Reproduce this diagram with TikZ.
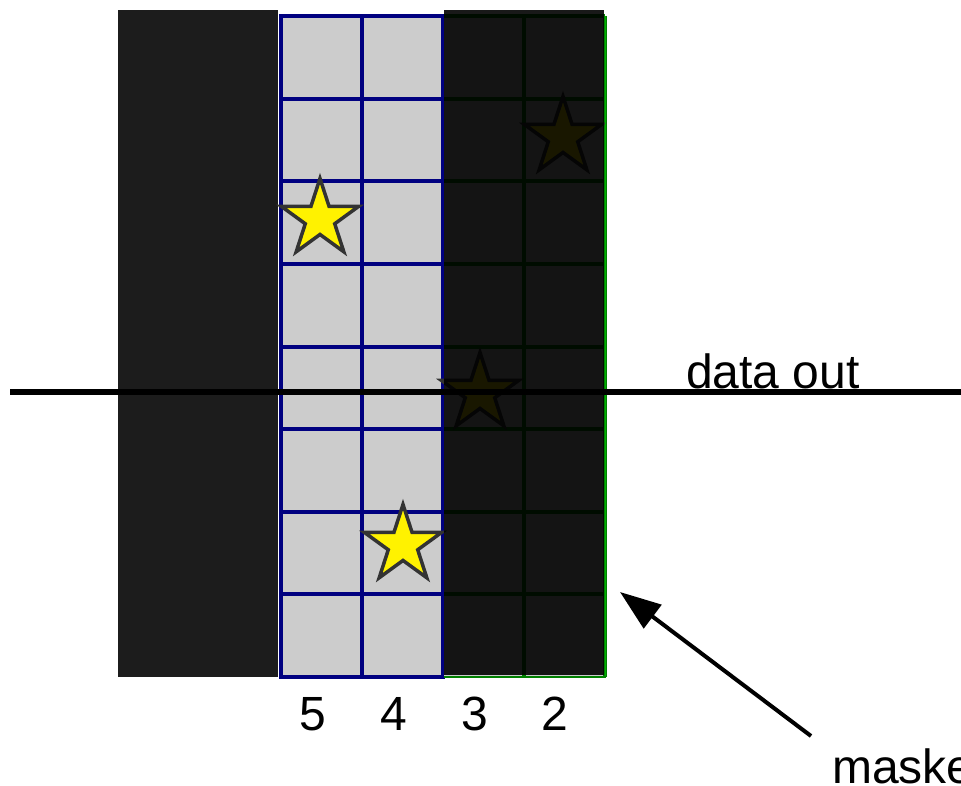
\documentclass[tikz,border=0pt]{standalone}
\usepackage{fontspec}
\setmainfont{Liberation Sans}
\usetikzlibrary{arrows.meta,shapes.geometric}
\definecolor{blockgrey}{HTML}{1C1C1C}
\definecolor{cellgrey}{HTML}{CCCCCC}
\definecolor{navy}{HTML}{000080}
\definecolor{gridgreen}{HTML}{008000}
\definecolor{edgegreen}{HTML}{00B000}
\definecolor{starline}{HTML}{333333}
\tikzset{
  hit/.style={star,star points=5,star point ratio=2.618,minimum size=81pt,
    inner sep=0pt,fill=yellow,draw=starline,line width=3.5pt},
  colnum/.style={anchor=base,inner sep=0pt},
}

\begin{document}
\begin{tikzpicture}[x=1pt,y=-1pt,font=\fontsize{48}{56}\selectfont,>=Latex]
  \useasboundingbox (0,0) rectangle (961,786);
  \clip (0,0) rectangle (961,786);
  % dark block on the left
  \fill[blockgrey] (118,10) rectangle (278,677);
  % open columns
  \fill[cellgrey] (281,16) rectangle (443,677);
  \draw[navy,line width=4pt] (362,16) -- (362,677);
  \foreach \k in {1,...,7}
    \draw[navy,line width=4pt] (281,16+82.625*\k) -- (443,16+82.625*\k);
  \draw[navy,line width=4pt] (281,16) rectangle (443,677);
  % masked columns
  \fill[cellgrey] (444,16) rectangle (605,677);
  \draw[gridgreen,line width=4pt] (524,16) -- (524,677);
  \foreach \k in {0,...,7}
    \draw[gridgreen,line width=4pt] (444,16+82.625*\k) -- (605,16+82.625*\k);
  \draw[gridgreen,line width=4pt] (605,16) -- (605,677);
  % hits
  \node[hit] (s1) at (320,219) {};
  \node[hit] (s2) at (403,545) {};
  \node[hit] (s3) at (480,393) {};
  \node[hit] (s4) at (563,137) {};
  % mask
  \fill[black,opacity=0.9] (444,10) rectangle (604,675);
  \draw[edgegreen,line width=1.5pt] (605.5,16) -- (605.5,677);
  \draw[gridgreen,line width=2.5pt] (444,677) -- (606,677);
  % readout line
  \coordinate (busL) at (10,392);
  \coordinate (busR) at (961,392);
  \draw[line width=6pt] (busL) -- (busR);
  \node[anchor=base west,inner sep=0pt] (dout) at (686,388) {data out};
  % column numbers
  \node[colnum] (c5) at (313,730) {5};
  \node[colnum] (c4) at (394,730) {4};
  \node[colnum] (c3) at (475,730) {3};
  \node[colnum] (c2) at (555,730) {2};
  % masked label
  \node[anchor=base west,inner sep=0pt] (mlbl) at (832,783) {masked};
  \coordinate (mtail) at (811,736);
  \coordinate (mtip) at (620,592);
  \draw[-{Triangle[length=41pt,width=29pt]},line width=4pt] (mtail) -- (mtip);
\end{tikzpicture}
\end{document}
